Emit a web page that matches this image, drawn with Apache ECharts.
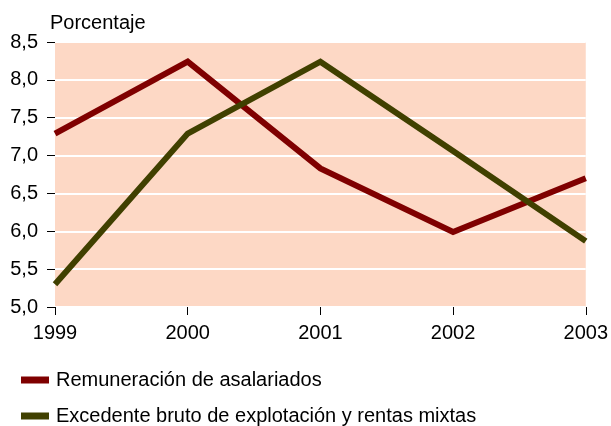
<!DOCTYPE html>
<html>
<head>
<meta charset="utf-8">
<style>
    html, body { margin: 0; padding: 0; background: #fff; }
    #chart { width: 611px; height: 426px; }
</style>
</head>
<body>
<div id="chart"></div>
<script src="https://cdn.jsdelivr.net/npm/echarts@6/dist/echarts.min.js"></script>
<script>
    var years = ['1999', '2000', '2001', '2002', '2003'];
    var remuneracion = [7.29, 8.24, 6.83, 5.99, 6.70];
    var excedente = [5.30, 7.29, 8.24, 7.06, 5.87];
    var seriesNames = ['Remuneración de asalariados', 'Excedente bruto de explotación y rentas mixtas'];

    var font = 'Liberation Sans';
    var legendText = { fontFamily: font, fontSize: 20, color: '#000', padding: [0, 0, 0, 2] };
    var myChart = echarts.init(document.getElementById('chart'));
    var option = {
        animation: false,
        textStyle: { fontFamily: font },
        title: {
            text: 'Porcentaje',
            left: 45,
            top: 8,
            textStyle: { fontFamily: font, fontSize: 20, fontWeight: 'normal', color: '#000' }
        },
        legend: [
            {
                left: 16, top: 365,
                itemWidth: 28, itemHeight: 7, icon: 'rect',
                textStyle: legendText,
                data: [seriesNames[0]]
            },
            {
                left: 16, top: 401,
                itemWidth: 28, itemHeight: 7, icon: 'rect',
                textStyle: legendText,
                data: [seriesNames[1]]
            }
        ],
        grid: {
            left: 55,
            right: 24,
            top: 42,
            bottom: 119,
            show: true,
            backgroundColor: '#fdd8c5',
            borderWidth: 0
        },
        xAxis: {
            type: 'category',
            boundaryGap: false,
            data: years,
            axisLine: { show: false },
            axisTick: { show: true, length: 8, lineStyle: { color: '#000', width: 1 } },
            axisLabel: { margin: 16, fontSize: 20, color: '#000', fontFamily: font }
        },
        yAxis: {
            type: 'value',
            min: 5,
            max: 8.5,
            interval: 0.5,
            axisLine: { show: false },
            axisTick: { show: true, length: 8, lineStyle: { color: '#000', width: 1 } },
            axisLabel: {
                margin: 17,
                fontSize: 20,
                color: '#000',
                fontFamily: font,
                formatter: function (v) { return v.toFixed(1).replace('.', ','); }
            },
            splitLine: { lineStyle: { color: '#fff', width: 2 } }
        },
        series: [
            {
                name: seriesNames[0],
                type: 'line',
                data: remuneracion,
                symbol: 'none',
                lineStyle: { color: '#7f0000', width: 6, join: 'miter' },
                itemStyle: { color: '#7f0000' }
            },
            {
                name: seriesNames[1],
                type: 'line',
                data: excedente,
                symbol: 'none',
                lineStyle: { color: '#404000', width: 6, join: 'miter' },
                itemStyle: { color: '#404000' }
            }
        ]
    };
    myChart.setOption(option);
</script>
</body>
</html>
